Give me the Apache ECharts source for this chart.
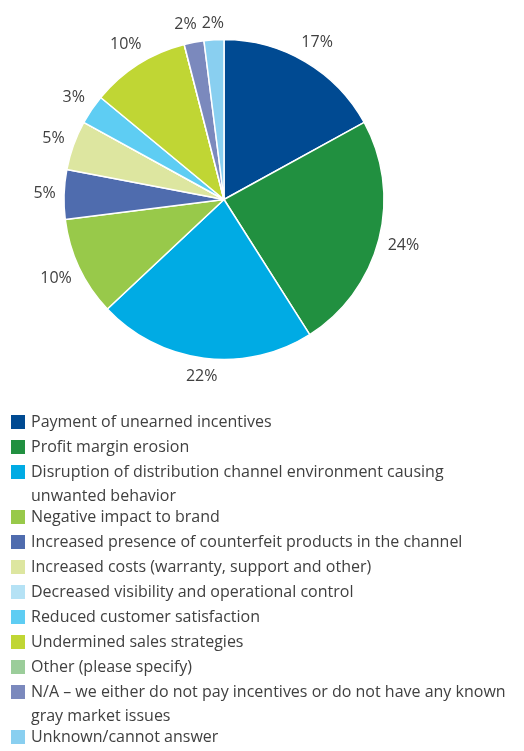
<!DOCTYPE html>
<html>
<head>
<meta charset="utf-8">
<script src="https://cdn.jsdelivr.net/npm/echarts@6/dist/echarts.min.js"></script>
<style>
  html, body { margin: 0; padding: 0; background: #ffffff; }
  #chart { width: 524px; height: 751px; }
</style>
</head>
<body>
<div id="chart"></div>
<script>
// Issues caused by gray market activity (share of respondents, %)
const categories = [
  'Payment of unearned incentives',
  'Profit margin erosion',
  'Disruption of distribution channel environment causing\nunwanted behavior',
  'Negative impact to brand',
  'Increased presence of counterfeit products in the channel',
  'Increased costs (warranty, support and other)',
  'Decreased visibility and operational control',
  'Reduced customer satisfaction',
  'Undermined sales strategies',
  'Other (please specify)',
  'N/A \u2013 we either do not pay incentives or do not have any known\ngray market issues',
  'Unknown/cannot answer'
];
const shares = [17, 24, 22, 10, 5, 5, 0, 3, 10, 0, 2, 2];
const colors = [
  '#004a92', '#219040', '#00abe4', '#98c94a', '#4f6cae', '#dde6a0',
  '#b5e2f5', '#5ecdf3', '#c0d634', '#9bcd9a', '#7b89bd', '#89cff0'
];

const PIE_CENTER = [224, 199.5];
const PIE_RADIUS = 160;
const LABEL_GAP = 8;
const LABEL_MIN_SPACE = 5;
const FONT_SIZE = 16;
const LINE_H = 24;
const TEXT_COLOR = '#404040';
const FONT = '"Open Sans", "Noto Sans", sans-serif';

const total = shares.reduce((a, b) => a + b, 0);
const before = shares.map((_, i) => shares.slice(0, i).reduce((a, b) => a + b, 0));

// Label centres: just outside the rim on each slice's mid-angle; a label that
// would run into the next one is nudged sideways.
const measureCtx = document.createElement('canvas').getContext('2d');
measureCtx.font = FONT_SIZE + 'px ' + FONT;
const labelPos = shares.map((v, i) => {
  const a = (before[i] + v / 2) / total * Math.PI * 2;
  const ux = Math.sin(a);
  const uy = -Math.cos(a);
  const w = measureCtx.measureText(v + '%').width;
  const d = PIE_RADIUS + LABEL_GAP + Math.abs(ux) * w / 2 + Math.abs(uy) * FONT_SIZE / 2;
  return { x: PIE_CENTER[0] + d * ux, y: PIE_CENTER[1] + d * uy, w: w, show: v > 0 };
});
const shown = labelPos.filter(p => p.show);
for (let k = 0; k < shown.length; k++) {
  const p = shown[k];
  const q = shown[(k + 1) % shown.length];
  if (p === q || Math.abs(p.y - q.y) >= FONT_SIZE) continue;
  const left = p.x < q.x ? p : q;
  const right = left === p ? q : p;
  const overlap = (left.x + left.w / 2 + LABEL_MIN_SPACE) - (right.x - right.w / 2);
  if (overlap > 0) left.x -= overlap;
}

const chart = echarts.init(document.getElementById('chart'), null, { renderer: 'canvas' });

chart.setOption({
  backgroundColor: '#ffffff',
  color: colors,
  animation: false,
  legend: {
    orient: 'vertical',
    left: 9,
    top: 410,
    height: 380,
    padding: 0,
    itemWidth: 16,
    itemHeight: 16,
    itemGap: 1,
    icon: 'rect',
    selectedMode: false,
    formatter: function (name) {
      return name.split('\n').map(line => '{t|' + line + '}').join('\n');
    },
    textStyle: {
      color: TEXT_COLOR,
      fontSize: FONT_SIZE,
      fontFamily: FONT,
      lineHeight: LINE_H,
      rich: {
        t: { color: TEXT_COLOR, fontSize: FONT_SIZE, fontFamily: FONT, lineHeight: LINE_H }
      }
    },
    data: categories.map(name => ({
      name: name,
      // wrapped entries keep the swatch beside their first line
      textStyle: name.indexOf('\n') >= 0
        ? { padding: [0, 0, -LINE_H * (name.split('\n').length - 1), 0] }
        : {}
    }))
  },
  series: [{
    type: 'pie',
    center: PIE_CENTER,
    radius: PIE_RADIUS,
    startAngle: 90,
    clockwise: true,
    avoidLabelOverlap: false,
    minShowLabelAngle: 0.1,
    itemStyle: { borderColor: '#ffffff', borderWidth: 1.5 },
    label: {
      show: true,
      position: 'outside',
      formatter: '{c}%',
      color: TEXT_COLOR,
      fontSize: FONT_SIZE,
      fontFamily: FONT
    },
    labelLine: { show: false },
    labelLayout: function (params) {
      const p = labelPos[params.dataIndex];
      return { x: p.x, y: p.y, align: 'center', verticalAlign: 'middle' };
    },
    emphasis: { disabled: true },
    data: categories.map((name, i) => ({ name: name, value: shares[i] }))
  }]
});
</script>
</body>
</html>
